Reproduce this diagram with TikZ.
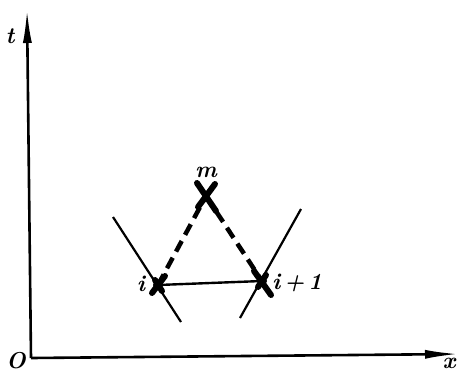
\documentclass[tikz,border=0pt]{standalone}
\usetikzlibrary{arrows.meta}
\begin{document}
\begin{tikzpicture}[x=1pt,y=-1pt,
  axis/.style={line width=2.6pt,-{Latex[length=34pt,width=9pt]}},
  lab/.style={font=\fontsize{23}{23}\selectfont\bfseries\itshape,inner sep=0pt},
  charline/.style={line width=2.2pt},
  xmark/.style={line width=6pt,line cap=round},
  dashline/.style={line width=4.5pt,dash pattern=on 12pt off 7pt}]
\useasboundingbox (0,0) rectangle (462,373);
% axes
\coordinate (O) at (31,358);
\coordinate (T) at (27,9);
\coordinate (X) at (459,354);
\draw[axis] (O) -- (T);
\draw[axis] (O) -- (X);
\node[lab] (tl) at (10,36) {t};
\node[lab] (ol) at (16,361) {O};
\node[lab] (xl) at (449,363) {x};
% points
\coordinate (i) at (158,285);
\coordinate (m) at (206,196);
\coordinate (ip) at (262,281);
% characteristics
\coordinate (a1) at (113,217);
\coordinate (a2) at (181,322);
\coordinate (b1) at (301,209);
\coordinate (b2) at (240,318);
\draw[charline] (a1) -- (a2);
\draw[charline] (b1) -- (b2);
% triangle
\draw[line width=2.4pt] (i) -- (ip);
\draw[dashline] (i) -- (m);
\draw[dashline] (m) -- (ip);
% cross marks
\draw[xmark] ([shift={(-9,-13)}]m) -- ([shift={(10,15)}]m);
\draw[xmark] ([shift={(9,-12)}]m) -- ([shift={(-8,11)}]m);
\draw[xmark] ([shift={(-6,8)}]i) -- ([shift={(7,-9)}]i);
\draw[xmark] ([shift={(-3,-5)}]i) -- ([shift={(4,6)}]i);
\fill (i) circle (5);
\draw[xmark] ([shift={(-8,-10)}]ip) -- ([shift={(9,14)}]ip);
\draw[xmark] ([shift={(4,-6)}]ip) -- ([shift={(-4,6)}]ip);
\fill (ip) circle (5);
% labels
\node[lab] (ml) at (206,172) {m};
\node[lab] (il) at (141,284) {i};
\node[lab,anchor=west] (ipl) at (272,283) {i\,+\,1};
\end{tikzpicture}
\end{document}
